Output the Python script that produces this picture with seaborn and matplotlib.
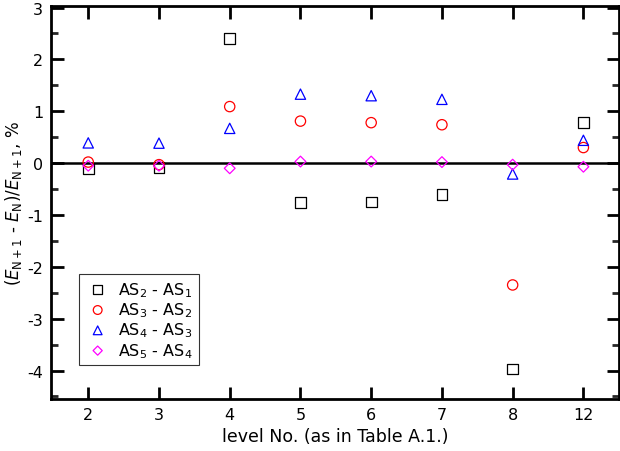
import numpy as np
import pandas as pd
import matplotlib
matplotlib.use("Agg")
import matplotlib.pyplot as plt
import seaborn as sns
from matplotlib.ticker import MultipleLocator

levels = ["2", "3", "4", "5", "6", "7", "8", "12"]
as2_as1 = [-0.10, -0.08, 2.41, -0.76, -0.75, -0.61, -3.97, 0.78]
as3_as2 = [0.02, -0.03, 1.09, 0.81, 0.78, 0.74, -2.35, 0.30]
as4_as3 = [0.39, 0.385, 0.67, 1.33, 1.30, 1.23, -0.21, 0.44]
as5_as4 = [-0.05, -0.05, -0.10, 0.03, 0.03, 0.02, -0.03, -0.07]
labels = ["AS$_2$ - AS$_1$", "AS$_3$ - AS$_2$", "AS$_4$ - AS$_3$", "AS$_5$ - AS$_4$"]

sns.set_theme(style="ticks")
plt.rcParams['font.family'] = ['DejaVu Sans']
plt.rcParams['axes.unicode_minus'] = False
plt.rcParams['text.color'] = 'black'
plt.rcParams['axes.labelcolor'] = 'black'

fig = plt.figure(figsize=(6.2, 4.52), dpi=100)
ax = fig.add_axes([0.083, 0.115, 0.915, 0.8695])

xpos = np.arange(len(levels))
series = [as2_as1, as3_as2, as4_as3, as5_as4]
markers = ["s", "o", "^", "D"]
colors = ["black", "red", "blue", "magenta"]
sizes = [60, 55, 55, 30]

handles = []
for vals, m, c, s, lab in zip(series, markers, colors, sizes, labels):
    df = pd.DataFrame({"x": xpos, "y": vals})
    n_before = len(ax.collections)
    sns.scatterplot(data=df, x="x", y="y", marker=m, color=c, s=s, ax=ax, label=lab, legend=False, zorder=3)
    coll = ax.collections[n_before]
    coll.set_facecolor("none")
    coll.set_edgecolor(c)
    coll.set_linewidth(0.9)
    handles.append(coll)

ax.axhline(0, color="black", lw=1.8, zorder=2)

ax.set_xlim(-0.52, 7.5)
ax.set_ylim(-4.55, 3.03)
ax.set_xticks(xpos)
ax.set_xticklabels(levels)
ax.yaxis.set_major_locator(MultipleLocator(1))
ax.yaxis.set_minor_locator(MultipleLocator(0.5))
ax.tick_params(axis="both", which="major", direction="in", length=9, width=2,
               top=True, right=True, labelsize=11.5, colors="black", pad=6)
ax.tick_params(axis="y", which="minor", direction="in", length=5, width=2, left=True, right=True)
for sp in ax.spines.values():
    sp.set_linewidth(2)
    sp.set_color("black")
    sp.set_visible(True)

ax.set_xlabel("level No. (as in Table A.1.)", fontsize=12.5, labelpad=3, color="black")
ax.set_ylabel(r"$(E_{\rm N+1}$ - $E_{\rm N})/E_{\rm N+1}$, %", fontsize=12, labelpad=2, color="black")

leg = ax.legend(handles=handles, labels=labels, loc="lower left", bbox_to_anchor=(0.035, 0.066),
                fontsize=11.5, frameon=True, fancybox=False, edgecolor="black",
                handletextpad=0.5, borderpad=0.35, labelspacing=0.1, handlelength=1.6,
                markerscale=0.85)
leg.get_frame().set_linewidth(0.8)
for t in leg.get_texts():
    t.set_color("black")

fig.savefig("out.png", dpi=100)
